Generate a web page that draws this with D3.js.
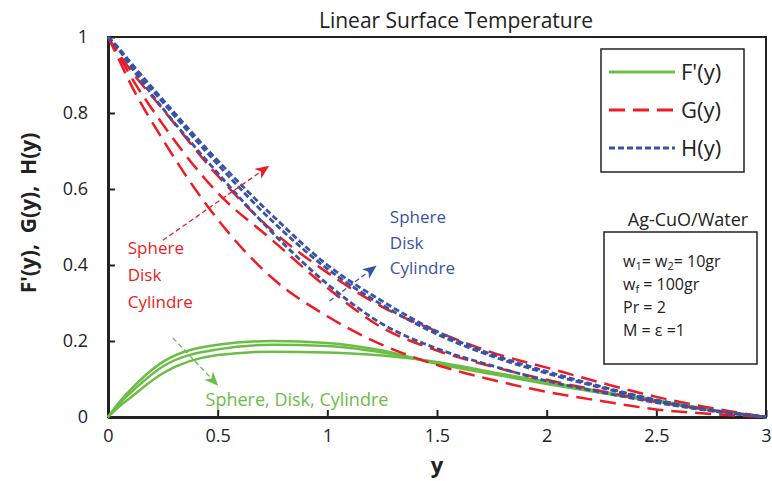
<!DOCTYPE html>
<html>
<head>
<meta charset="utf-8">
<script src="https://cdn.jsdelivr.net/npm/d3@7"></script>
<style>
  body { margin: 0; background: #fff; }
  svg text { font-family: "Comic Sans MS", "Open Sans", sans-serif; }
</style>
</head>
<body>
<div id="chart"></div>
<script>
// similarity variable y
const yValues = [0, 0.05, 0.1, 0.25, 0.5, 0.75, 1, 1.25, 1.5, 1.75, 2, 2.25, 2.5, 2.75, 3];

// F'(y)
const fSphere   = [0, 0.038, 0.07, 0.145, 0.19, 0.2, 0.195, 0.175, 0.14, 0.113, 0.087, 0.063, 0.04, 0.018, 0];
const fDisk     = [0, 0.034, 0.062, 0.133, 0.178, 0.19, 0.187, 0.17, 0.142, 0.115, 0.09, 0.065, 0.042, 0.019, 0];
const fCylindre = [0, 0.027, 0.05, 0.115, 0.163, 0.172, 0.17, 0.162, 0.145, 0.118, 0.093, 0.067, 0.044, 0.02, 0];

// G(y)
const gSphere   = [1, 0.94, 0.88, 0.73, 0.52, 0.365, 0.265, 0.19, 0.137, 0.098, 0.066, 0.042, 0.02, 0.008, 0];
const gDisk     = [1, 0.95, 0.9, 0.77, 0.59, 0.465, 0.34, 0.235, 0.175, 0.133, 0.098, 0.068, 0.04, 0.018, 0];
const gCylindre = [1, 0.955, 0.915, 0.81, 0.635, 0.49, 0.38, 0.29, 0.225, 0.17, 0.13, 0.09, 0.053, 0.024, 0];

// H(y)
const hSphere   = [1, 0.966, 0.925, 0.812, 0.642, 0.485, 0.35, 0.245, 0.18, 0.135, 0.095, 0.065, 0.038, 0.016, 0];
const hDisk     = [1, 0.968, 0.93, 0.828, 0.665, 0.515, 0.39, 0.295, 0.218, 0.16, 0.115, 0.077, 0.043, 0.017, 0];
const hCylindre = [1, 0.97, 0.935, 0.835, 0.675, 0.53, 0.4, 0.305, 0.225, 0.165, 0.12, 0.08, 0.045, 0.018, 0];

const xTicks = [0, 0.5, 1, 1.5, 2, 2.5, 3];
const yTicks = [0, 0.2, 0.4, 0.6, 0.8, 1];
const legendLabels = ["F'(y)", "G(y)", "H(y)"];
const caseLabels = ["Sphere", "Disk", "Cylindre"];

const GREEN = "#6cbd45", RED = "#ed1c24", BLUE = "#3953a4";

const width = 772, height = 481;
const margin = { top: 37, right: 6, bottom: 64, left: 108 };

const svg = d3.select("#chart")
    .append("svg")
    .attr("width", width)
    .attr("height", height);

const x = d3.scaleLinear().domain([0, 3]).range([margin.left, width - margin.right]);
const y = d3.scaleLinear().domain([0, 1]).range([height - margin.bottom, margin.top]);

// arrow heads
const defs = svg.append("defs");
[["arrow_red", RED], ["arrow_blue", BLUE], ["arrow_green", GREEN]].forEach(([id, col]) => {
    defs.append("marker")
        .attr("id", id)
        .attr("refX", 10)
        .attr("refY", 6)
        .attr("markerWidth", 16)
        .attr("markerHeight", 16)
        .attr("markerUnits", "userSpaceOnUse")
        .attr("orient", "auto")
        .append("path")
        .attr("d", "M 0 0 14 6 0 12 4 6 Z")
        .style("fill", col);
});

// frame
svg.append("rect")
    .attr("x", x(0)).attr("y", y(1))
    .attr("width", x(3) - x(0)).attr("height", y(0) - y(1))
    .attr("fill", "none").attr("stroke", "#222").attr("stroke-width", 2);

// axes
const xAxis = svg.append("g")
    .attr("transform", `translate(0,${y(0)})`)
    .call(d3.axisBottom(x).tickValues(xTicks).tickFormat(d3.format("")).tickSizeInner(-7).tickSizeOuter(0).tickPadding(12));
const yAxis = svg.append("g")
    .attr("transform", `translate(${x(0)},0)`)
    .call(d3.axisLeft(y).tickValues(yTicks).tickFormat(d3.format("")).tickSizeInner(-7).tickSizeOuter(0).tickPadding(20));
[xAxis, yAxis].forEach(g => {
    g.select(".domain").attr("stroke", "#222").attr("stroke-width", 3);
    g.selectAll(".tick line").attr("stroke", "#222").attr("stroke-width", 2);
    g.selectAll(".tick text").attr("fill", "#222").style("font-size", "18px")
        .style("font-family", "'Comic Sans MS', 'Open Sans', sans-serif");
});

// curves
const line = d3.line()
    .x((d, i) => x(yValues[i]))
    .y(d => y(d))
    .curve(d3.curveMonotoneX);

const series = [
    { values: [fSphere, fDisk, fCylindre], color: GREEN, dash: null, w: 2.5 },
    { values: [gSphere, gDisk, gCylindre], color: RED, dash: "16,8", w: 2.5 },
    { values: [hSphere, hDisk, hCylindre], color: BLUE, dash: "6,3", w: 2.8 }
];
series.forEach(s => {
    s.values.forEach(v => {
        svg.append("path")
            .attr("d", line(v))
            .attr("fill", "none")
            .attr("stroke", s.color)
            .attr("stroke-width", s.w)
            .attr("stroke-dasharray", s.dash);
    });
});

// annotation arrows (data coordinates)
const arrows = [
    { from: [0.25, 0.465], to: [0.72, 0.655], color: RED, id: "arrow_red" },
    { from: [1.01, 0.305], to: [1.21, 0.392], color: BLUE, id: "arrow_blue" },
    { from: [0.296, 0.208], to: [0.49, 0.09], color: GREEN, id: "arrow_green" }
];
arrows.forEach(a => {
    svg.append("path")
        .attr("d", "M " + x(a.from[0]) + " " + y(a.from[1]) + " L " + x(a.to[0]) + " " + y(a.to[1]))
        .attr("stroke", a.color)
        .attr("stroke-width", 1.3)
        .attr("stroke-dasharray", "5,3")
        .attr("fill", "none")
        .attr("marker-end", `url(#${a.id})`);
});

// case labels
caseLabels.forEach((t, i) => {
    svg.append("text").attr("x", x(0.09)).attr("y", y(0.43) + i * 27)
        .attr("fill", RED).style("font-size", "17px").text(t);
    svg.append("text").attr("x", x(1.285)).attr("y", y(0.51) + i * 25.5)
        .attr("fill", BLUE).style("font-size", "17px").text(t);
});
svg.append("text").attr("x", x(0.445)).attr("y", y(0.028))
    .attr("fill", GREEN).style("font-size", "18px").text(caseLabels.join(", "));

// title and axis labels
svg.append("text").attr("x", 456).attr("y", 28).attr("text-anchor", "middle")
    .attr("fill", "#222").style("font-size", "21px").text("Linear Surface Temperature");
svg.append("text").attr("x", (x(0) + x(3)) / 2).attr("y", 473).attr("text-anchor", "middle")
    .attr("fill", "#222").style("font-size", "22px").style("font-weight", "bold").text("y");
svg.append("text")
    .attr("transform", `translate(36,${y(0.5) - 14}) rotate(-90)`)
    .attr("text-anchor", "middle")
    .attr("fill", "#222").style("font-size", "21px").style("font-weight", "bold")
    .attr("xml:space", "preserve")
    .text("F'(y),  G(y),  H(y)");

// legend
const legend = svg.append("g").attr("transform", "translate(601,49)");
legend.append("rect").attr("width", 143).attr("height", 123)
    .attr("fill", "#fff").attr("stroke", "#222").attr("stroke-width", 1.5);
series.forEach((s, i) => {
    const ly = 23 + i * 38;
    legend.append("line").attr("x1", 8).attr("x2", 74).attr("y1", ly).attr("y2", ly)
        .attr("stroke", s.color).attr("stroke-width", 2.8).attr("stroke-dasharray", s.dash);
    legend.append("text").attr("x", 80).attr("y", ly + 8).attr("fill", "#222")
        .style("font-size", "22px").text(legendLabels[i]);
});

// parameters box
svg.append("text").attr("x", 688).attr("y", 226).attr("text-anchor", "middle")
    .attr("fill", "#222").style("font-size", "18px").text("Ag-CuO/Water");
const pbox = svg.append("g").attr("transform", "translate(604,232)");
pbox.append("rect").attr("width", 153).attr("height", 132)
    .attr("fill", "#fff").attr("stroke", "#222").attr("stroke-width", 1.5);
const p1 = pbox.append("text").attr("x", 19).attr("y", 35).attr("fill", "#222").style("font-size", "16px");
p1.append("tspan").text("w");
p1.append("tspan").attr("dy", 3).style("font-size", "11px").text("1");
p1.append("tspan").attr("dy", -3).text("= w");
p1.append("tspan").attr("dy", 3).style("font-size", "11px").text("2");
p1.append("tspan").attr("dy", -3).text("= 10gr");
const p2 = pbox.append("text").attr("x", 19).attr("y", 58).attr("fill", "#222").style("font-size", "16px");
p2.append("tspan").text("w");
p2.append("tspan").attr("dy", 3).style("font-size", "11px").text("f");
p2.append("tspan").attr("dy", -3).text(" = 100gr");
pbox.append("text").attr("x", 19).attr("y", 81).attr("fill", "#222").style("font-size", "16px").text("Pr = 2");
pbox.append("text").attr("x", 19).attr("y", 104).attr("fill", "#222").style("font-size", "16px").text("M = ε =1");
</script>
</body>
</html>
